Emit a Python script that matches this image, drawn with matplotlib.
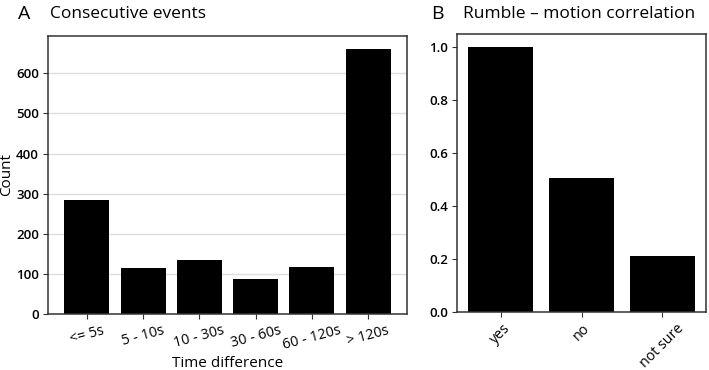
import matplotlib
matplotlib.use("Agg")
import matplotlib.pyplot as plt

# panel A: consecutive events
gap_labels = ["<= 5s", "5 - 10s", "10 - 30s", "30 - 60s", "60 - 120s", "> 120s"]
gap_counts = [284, 114, 134, 87, 116, 660]

# panel B: rumble - motion correlation
answer_labels = ["yes", "no", "not sure"]
answer_frac = [1.0, 0.505, 0.21]

W, H = 709, 370
fig = plt.figure(figsize=(W / 100, H / 100), dpi=100)
fig.patch.set_facecolor("white")

def box(l, t, r, b):
    return [l / W, 1 - b / H, (r - l) / W, (b - t) / H]

axA = fig.add_axes(box(48, 36, 407, 314))
axB = fig.add_axes(box(457, 34, 706, 312))

labfont = dict(family="Open Sans", size=11)
tickfont = dict(family="Open Sans", size=10.3)

axA.bar(range(len(gap_counts)), gap_counts, color="black", width=0.8, zorder=2)
axA.set_xticks(range(len(gap_labels)))
axA.set_xticklabels(gap_labels, rotation=15, fontdict=tickfont)
axA.set_ylim(0, 693)
axA.set_yticks([0, 100, 200, 300, 400, 500, 600])
axA.yaxis.grid(True, color="#dddddd", linewidth=1, zorder=0)
axA.set_axisbelow(True)
axA.set_ylabel("Count", fontdict=labfont)
axA.yaxis.set_label_coords(-0.094, 0.5)
axA.set_xlabel("Time difference", fontdict=labfont)
axA.xaxis.set_label_coords(0.5, -0.15)

axB.bar(range(len(answer_frac)), answer_frac, color="black", width=0.8, zorder=2)
axB.set_xticks(range(len(answer_labels)))
axB.set_xticklabels(answer_labels, rotation=45, fontdict=tickfont)
axB.set_ylim(0, 1.05)
axB.set_yticks([0.0, 0.2, 0.4, 0.6, 0.8, 1.0])

for ax in (axA, axB):
    for s in ax.spines.values():
        s.set_color("#333333")
        s.set_linewidth(1.1)
    ax.tick_params(axis="both", colors="#333333", labelcolor="black", length=3.5, pad=3)
    for lab in ax.get_yticklabels():
        lab.set_family("Open Sans")
        lab.set_weight("semibold")
        lab.set_size(9.5)

fig.text(18 / W, 1 - 14 / H, "A", family="Open Sans", size=14, va="center", ha="left")
fig.text(50 / W, 1 - 14 / H, "Consecutive events", family="Open Sans", size=12.5, va="center", ha="left")
fig.text(431 / W, 1 - 14 / H, "B", family="Open Sans", size=14, va="center", ha="left")
fig.text(463 / W, 1 - 14 / H, "Rumble \u2013 motion correlation", family="Open Sans", size=12.5, va="center", ha="left")

fig.savefig("out.png", dpi=100, facecolor="white")
